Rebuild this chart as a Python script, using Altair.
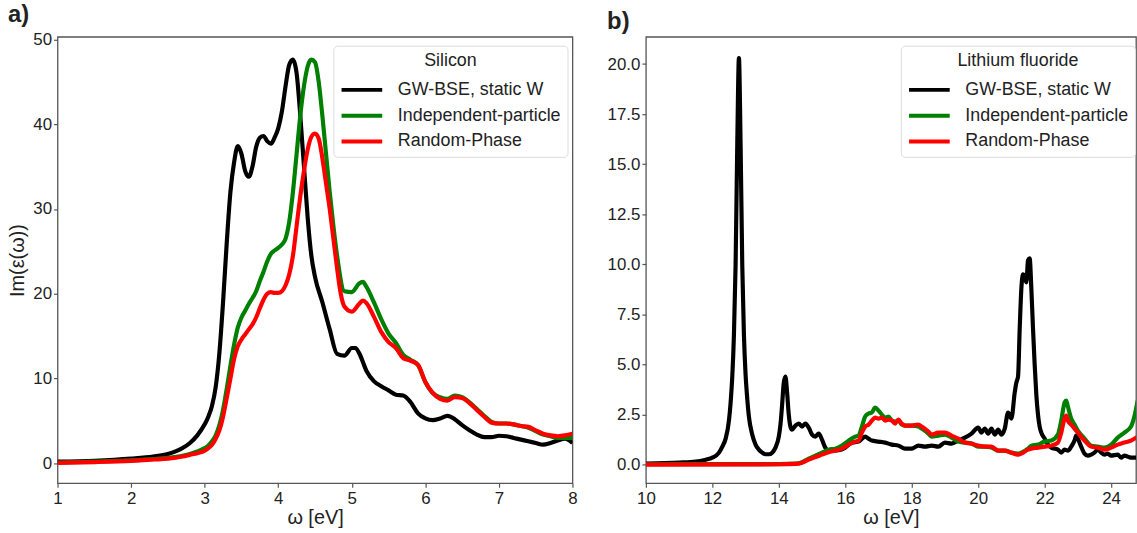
import altair as alt
import pandas as pd

SERIES = ["GW-BSE, static W", "Independent-particle", "Random-Phase"]
COLORS = ["#000000", "#008000", "#ff0000"]

# ---------------- Panel a) Silicon ----------------
si_bse_x = [1.0, 1.5, 2.0, 2.3, 2.5, 2.7, 2.8, 2.9, 3.0, 3.05, 3.1, 3.15, 3.2, 3.25, 3.3, 3.35,
            3.4, 3.45, 3.5, 3.55, 3.6, 3.65, 3.7, 3.75, 3.8, 3.85, 3.9, 3.95, 4.0, 4.05, 4.1,
            4.15, 4.2, 4.25, 4.3, 4.35, 4.4, 4.45, 4.5, 4.6, 4.7, 4.8, 4.9, 5.0, 5.05, 5.1,
            5.2, 5.3, 5.4, 5.5, 5.6, 5.7, 5.8, 5.9, 6.0, 6.1, 6.2, 6.3, 6.4, 6.5, 6.6, 6.7,
            6.8, 6.9, 7.0, 7.1, 7.2, 7.3, 7.4, 7.5, 7.6, 7.7, 7.8, 7.9, 8.0]
si_bse_y = [0.2, 0.3, 0.55, 0.8, 1.1, 1.8, 2.4, 3.3, 4.6, 5.5, 6.8, 9.0, 13.0, 19.0, 26.0, 32.0,
            35.5, 37.4, 36.5, 34.5, 33.8, 35.0, 37.3, 38.4, 38.6, 38.0, 37.7, 38.4, 39.5, 41.5, 44.5,
            47.0, 47.6, 46.0, 41.0, 35.0, 29.0, 24.5, 22.0, 19.0, 15.8, 12.9, 12.7, 13.6, 13.6, 13.0,
            10.9, 9.7, 9.1, 8.6, 8.1, 8.0, 7.2, 5.9, 5.3, 5.1, 5.3, 5.6, 5.2, 4.5, 3.9, 3.4,
            3.1, 3.1, 3.25, 3.2, 3.0, 2.8, 2.6, 2.4, 2.2, 2.4, 2.7, 2.9, 2.4]

si_ip_x = [1.0, 1.5, 2.0, 2.3, 2.5, 2.7, 2.8, 2.9, 3.0, 3.05, 3.1, 3.15, 3.2, 3.25, 3.3, 3.35,
           3.4, 3.45, 3.5, 3.55, 3.6, 3.65, 3.7, 3.75, 3.8, 3.85, 3.9, 3.95, 4.0, 4.05, 4.1,
           4.15, 4.2, 4.25, 4.3, 4.35, 4.4, 4.45, 4.5, 4.55, 4.6, 4.65, 4.7, 4.75, 4.8, 4.9,
           5.0, 5.1, 5.15, 5.2, 5.3, 5.4, 5.5, 5.6, 5.7, 5.8, 5.9, 6.0, 6.1, 6.2, 6.3, 6.4,
           6.5, 6.6, 6.7, 6.8, 6.9, 7.0, 7.1, 7.2, 7.3, 7.4, 7.5, 7.6, 7.7, 7.8, 7.9, 8.0]
si_ip_y = [0.1, 0.2, 0.35, 0.5, 0.65, 0.9, 1.1, 1.4, 1.8, 2.1, 2.6, 3.3, 4.5, 6.3, 8.8, 11.5,
           14.0, 16.0, 17.2, 18.0, 18.8, 19.5, 20.3, 21.5, 22.6, 23.8, 24.7, 25.1, 25.4, 25.8, 26.5,
           28.5, 32.0, 36.5, 41.0, 44.5, 46.8, 47.6, 47.3, 45.0, 41.0, 36.5, 32.0, 28.0, 24.5, 20.3,
           20.2, 21.2, 21.4, 20.8, 19.0, 17.0, 15.3, 14.2, 12.8, 12.2, 11.6, 9.6, 8.3, 7.8, 7.6, 8.0,
           7.8, 7.2, 6.4, 5.6, 4.9, 4.7, 4.7, 4.6, 4.4, 4.2, 3.8, 3.4, 3.2, 3.0, 3.0, 3.0]

si_rpa_x = [1.0, 1.5, 2.0, 2.3, 2.5, 2.7, 2.8, 2.9, 3.0, 3.05, 3.1, 3.15, 3.2, 3.25, 3.3, 3.35,
            3.4, 3.45, 3.5, 3.55, 3.6, 3.65, 3.7, 3.75, 3.8, 3.85, 3.9, 3.95, 4.0, 4.05, 4.1,
            4.15, 4.2, 4.25, 4.3, 4.35, 4.4, 4.45, 4.5, 4.55, 4.6, 4.65, 4.7, 4.75, 4.8, 4.85,
            4.9, 5.0, 5.1, 5.15, 5.2, 5.3, 5.4, 5.5, 5.6, 5.7, 5.8, 5.9, 6.0, 6.1, 6.2, 6.3,
            6.4, 6.5, 6.6, 6.7, 6.8, 6.9, 7.0, 7.1, 7.2, 7.3, 7.4, 7.5, 7.6, 7.7, 7.8, 7.9, 8.0]
si_rpa_y = [0.05, 0.15, 0.3, 0.45, 0.55, 0.8, 1.0, 1.2, 1.5, 1.8, 2.2, 2.9, 3.9, 5.5, 7.7, 10.0,
            12.3, 13.8, 14.6, 15.2, 15.8, 16.4, 17.2, 18.3, 19.3, 20.0, 20.2, 20.1, 20.1, 20.3, 21.0,
            22.3, 24.5, 28.0, 31.5, 34.5, 37.0, 38.5, 38.9, 38.3, 36.0, 33.0, 30.0, 26.5, 23.0, 20.0,
            18.5, 17.9, 18.8, 19.2, 18.9, 17.3, 15.5, 14.3, 13.6, 12.4, 12.1, 11.6, 9.6, 8.3, 7.6, 7.4,
            7.8, 7.7, 7.1, 6.3, 5.5, 4.8, 4.7, 4.7, 4.6, 4.4, 4.3, 3.9, 3.5, 3.3, 3.2, 3.3, 3.5]

# ---------------- Panel b) Lithium fluoride ----------------
lif_bse_x = [10.0, 11.0, 11.5, 11.8, 12.0, 12.2, 12.3, 12.4, 12.5, 12.55, 12.6, 12.65, 12.7, 12.75,
             12.8, 12.85, 12.9, 12.95, 13.0, 13.05, 13.1, 13.2, 13.3, 13.4, 13.5, 13.6, 13.7, 13.8,
             13.9, 14.0, 14.05, 14.1, 14.15, 14.2, 14.25, 14.3, 14.35, 14.4, 14.5, 14.6, 14.7, 14.8,
             14.9, 15.0, 15.1, 15.2, 15.3, 15.4, 15.5, 15.6, 15.8, 16.0, 16.2, 16.4, 16.6, 16.7,
             16.8, 17.0, 17.2, 17.4, 17.6, 17.8, 18.0, 18.2, 18.4, 18.6, 18.8, 19.0, 19.2, 19.4,
             19.6, 19.8, 20.0, 20.1, 20.2, 20.3, 20.4, 20.5, 20.6, 20.7, 20.8, 20.9, 21.0, 21.1,
             21.15, 21.2, 21.25, 21.3, 21.35, 21.4, 21.45, 21.5, 21.55, 21.6, 21.65, 21.7, 21.75,
             21.8, 21.85, 21.9, 22.0, 22.1, 22.2, 22.4, 22.5, 22.6, 22.7, 22.8, 22.9, 22.95, 23.0,
             23.1, 23.2, 23.3, 23.4, 23.5, 23.6, 23.7, 23.8, 23.9, 24.0, 24.2, 24.3, 24.4, 24.6, 24.8]
lif_bse_y = [0.05, 0.1, 0.15, 0.25, 0.35, 0.6, 0.9, 1.3, 2.2, 3.1, 4.4, 6.5, 10.0, 16.0,
             20.3, 16.0, 10.0, 6.5, 4.5, 3.3, 2.4, 1.5, 1.0, 0.75, 0.6, 0.52, 0.52, 0.6,
             0.85, 1.4, 2.0, 3.0, 4.1, 4.4, 3.6, 2.5, 1.9, 1.75, 1.95, 2.05, 1.9, 2.05,
             1.85, 1.5, 1.4, 1.55, 1.25, 0.85, 0.7, 0.7, 0.72, 0.85, 1.1, 1.15, 1.4, 1.3,
             1.2, 1.15, 1.1, 1.0, 0.95, 0.8, 0.8, 0.95, 0.9, 0.95, 0.9, 1.1, 1.05, 1.2,
             1.35, 1.55, 1.85, 1.6, 1.8, 1.55, 1.8, 1.5, 1.75, 1.5, 1.8, 2.6, 2.3, 3.6,
             4.1, 4.4, 6.8, 8.8, 9.5, 9.4, 9.1, 10.2, 10.3, 8.8, 6.8, 5.0, 3.5,
             2.5, 1.9, 1.6, 1.3, 1.0, 0.85, 0.75, 0.6, 0.75, 0.7, 0.9, 1.2, 1.45, 1.3,
             0.9, 0.55, 0.45, 0.5, 0.6, 0.75, 0.6, 0.5, 0.55, 0.45, 0.5, 0.35, 0.45, 0.35, 0.35]

lif_ip_x = [10.0, 14.0, 14.5, 14.7, 14.9, 15.1, 15.3, 15.5, 15.7, 15.9, 16.1, 16.3, 16.4, 16.5,
            16.6, 16.7, 16.8, 16.9, 17.0, 17.1, 17.2, 17.3, 17.4, 17.5, 17.6, 17.7, 17.8, 18.0,
            18.2, 18.3, 18.5, 18.6, 18.8, 19.0, 19.2, 19.4, 19.6, 19.8, 20.0, 20.2, 20.4, 20.6,
            20.8, 21.0, 21.2, 21.3, 21.5, 21.6, 21.8, 22.0, 22.2, 22.4, 22.5, 22.6, 22.65, 22.7,
            22.8, 22.9, 23.0, 23.2, 23.4, 23.6, 23.8, 24.0, 24.2, 24.4, 24.6, 24.7, 24.8]
lif_ip_y = [0.02, 0.03, 0.05, 0.12, 0.3, 0.45, 0.6, 0.75, 0.8, 0.95, 1.2, 1.4, 1.45, 1.9,
            2.4, 2.55, 2.6, 2.85, 2.7, 2.5, 2.35, 2.4, 2.2, 2.15, 2.2, 2.0, 1.95, 1.95,
            1.9, 1.8, 1.55, 1.4, 1.45, 1.5, 1.35, 1.15, 1.1, 1.05, 0.9, 0.9, 0.85, 0.7,
            0.7, 0.6, 0.55, 0.6, 0.8, 0.95, 1.0, 1.15, 1.2, 1.5, 2.2, 3.1, 3.2, 2.9,
            2.3, 2.0, 1.7, 1.3, 0.95, 0.9, 0.85, 1.0, 1.35, 1.6, 1.9, 2.4, 3.2]

lif_rpa_x = [10.0, 14.0, 14.5, 14.7, 14.9, 15.1, 15.3, 15.5, 15.7, 15.9, 16.1, 16.3, 16.4, 16.5,
             16.6, 16.7, 16.8, 16.9, 17.0, 17.1, 17.2, 17.3, 17.4, 17.5, 17.6, 17.7, 17.8, 18.0,
             18.2, 18.3, 18.5, 18.6, 18.8, 19.0, 19.2, 19.4, 19.6, 19.8, 20.0, 20.2, 20.4, 20.6,
             20.8, 21.0, 21.2, 21.3, 21.5, 21.6, 21.8, 22.0, 22.2, 22.4, 22.5, 22.6, 22.65, 22.7,
             22.8, 22.9, 23.0, 23.2, 23.4, 23.6, 23.8, 24.0, 24.2, 24.4, 24.6, 24.8]
lif_rpa_y = [0.0, 0.02, 0.04, 0.1, 0.25, 0.38, 0.5, 0.62, 0.7, 0.8, 1.0, 1.15, 1.2, 1.6,
             1.9, 2.0, 2.2, 2.35, 2.3, 2.35, 2.2, 2.25, 2.2, 2.05, 2.25, 2.05, 1.95, 1.95,
             2.0, 1.9, 1.65, 1.5, 1.6, 1.6, 1.45, 1.3, 1.1, 1.05, 0.95, 0.9, 0.9, 0.7,
             0.7, 0.6, 0.5, 0.55, 0.75, 0.8, 0.85, 0.9, 0.95, 1.1, 1.6, 2.3, 2.45, 2.2,
             2.0, 1.8, 1.6, 1.2, 0.9, 0.85, 0.75, 0.85, 1.0, 1.1, 1.2, 1.4]

si_xticks = [1, 2, 3, 4, 5, 6, 7, 8]
si_yticks = [0, 10, 20, 30, 40, 50]
lif_xticks = [10, 12, 14, 16, 18, 20, 22, 24]
lif_yticks = [0.0, 2.5, 5.0, 7.5, 10.0, 12.5, 15.0, 17.5, 20.0]


def table(groups):
    rows = []
    for name, xs, ys in groups:
        for xv, yv in zip(xs, ys):
            rows.append({"x": xv, "y": yv, "series": name})
    return pd.DataFrame(rows)


si_df = table([(SERIES[0], si_bse_x, si_bse_y),
               (SERIES[1], si_ip_x, si_ip_y),
               (SERIES[2], si_rpa_x, si_rpa_y)])
lif_df = table([(SERIES[0], lif_bse_x, lif_bse_y),
                (SERIES[1], lif_ip_x, lif_ip_y),
                (SERIES[2], lif_rpa_x, lif_rpa_y)])


def panel(df, label, legend_title, xdom, ydom, xticks, yticks, yfmt, ytitle, legx, width):
    layers = []
    yaxis_kw = dict(values=yticks, format=yfmt)
    if ytitle:
        yaxis_kw["title"] = ytitle
    else:
        yaxis_kw["title"] = None
    for s in SERIES:
        layers.append(
            alt.Chart(df)
            .transform_filter(alt.datum.series == s)
            .mark_line(strokeWidth=4.2, clip=True, interpolate="monotone", strokeJoin="round")
            .encode(
                x=alt.X("x:Q", scale=alt.Scale(domain=xdom, nice=False, zero=False),
                        axis=alt.Axis(values=xticks, format="d", title="ω [eV]",
                                      labelFlush=False)),
                y=alt.Y("y:Q", scale=alt.Scale(domain=ydom, nice=False, zero=False),
                        axis=alt.Axis(**yaxis_kw)),
                color=alt.Color(
                    "series:N",
                    scale=alt.Scale(domain=SERIES, range=COLORS),
                    legend=alt.Legend(
                        title=legend_title, orient="none", legendX=legx, legendY=9,
                        titleAnchor="middle", titleFontSize=18, titleFontWeight="normal",
                        titleColor="#222222", labelColor="#222222",
                        labelFontSize=18, symbolType="M-1,0H3", symbolSize=420,
                        symbolStrokeWidth=4, labelOffset=34, rowPadding=4, padding=6,
                        titlePadding=8, strokeColor="#dcdcdc", fillColor="#ffffff",
                        cornerRadius=4, labelLimit=400,
                    ),
                ),
            )
        )
    return alt.layer(*layers).properties(
        width=width, height=450,
        title=alt.TitleParams(label, anchor="start", frame="bounds", fontSize=24,
                              fontWeight="bold", color="#222222", offset=3),
    )


left = panel(si_df, "a)", "Silicon", [1, 8], [-2.35, 50.3], si_xticks, si_yticks, "d",
             "Im(ε(ω))", 278, 519)
right = panel(lif_df, "b)", "Lithium fluoride", [10, 24.75], [-0.93, 21.36], lif_xticks,
              lif_yticks, ".1f", None, 257, 494)

chart = (
    alt.hconcat(left, right, spacing=28)
    .resolve_scale(color="independent")
    .resolve_legend(color="independent")
    .properties(padding={"left": 7, "right": 0, "top": 0, "bottom": 0})
    .configure(font="Liberation Sans")
    .configure_view(stroke="#555555", strokeWidth=1.3)
    .configure_axis(
        domain=False, grid=False, tickSize=4, tickColor="#555555", tickWidth=1.2,
        labelFontSize=17, labelColor="#222222", labelPadding=2,
        titleFontSize=20, titleFontWeight="normal", titleColor="#222222",
    )
    .configure_axisX(titlePadding=2, labelPadding=3)
    .configure_axisY(titlePadding=5)
)

chart.save("out.html", embed_options={"renderer": "svg", "actions": False})
